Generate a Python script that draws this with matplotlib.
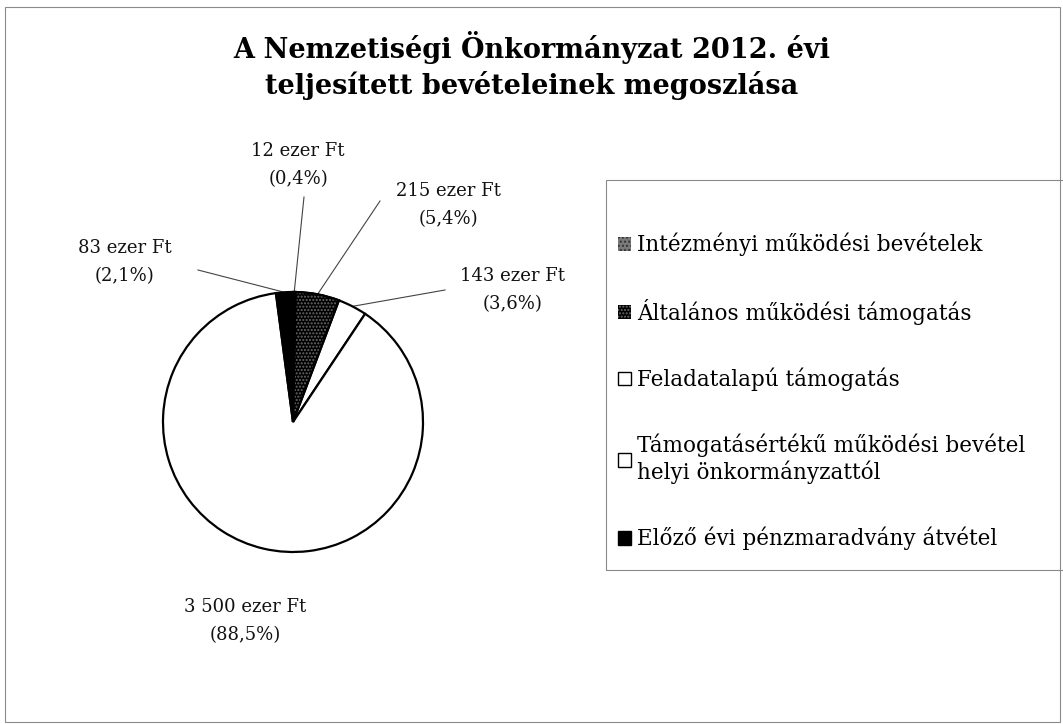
import matplotlib.pyplot as plt
import matplotlib.patches as mpatches
from matplotlib.patches import Wedge, Rectangle
import numpy as np

plt.rcParams['font.family'] = 'DejaVu Serif'
plt.rcParams['hatch.linewidth'] = 1.0

# Data
categories = ['Intézményi működési bevételek',
              'Általános működési támogatás',
              'Feladatalapú támogatás',
              'Támogatásértékű működési bevétel\nhelyi önkormányzattól',
              'Előző évi pénzmaradvány átvétel']
values = [12, 215, 143, 3500, 83]
value_labels = ['12', '215', '143', '3 500', '83']
percents = ['0,4', '5,4', '3,6', '88,5', '2,1']

# styles per slice: face, hatch, hatch colour
faces = ['#7a7a7a', 'black', 'white', 'white', 'black']
hatches = ['....', '.....', None, None, None]
hatch_cols = ['#333333', '#6a6a6a', None, None, None]

W, H = 1063, 724
fig = plt.figure(figsize=(W / 100, H / 100), dpi=100)
ax = fig.add_axes([0, 0, 1, 1])

cx, cy, r = 293, H - 422, 130

wedges, _ = ax.pie(values, startangle=90, counterclock=False, center=(cx, cy),
                   radius=r, colors=faces, frame=True,
                   wedgeprops=dict(edgecolor='black', linewidth=1.6))
ax.set_xlim(0, W)
ax.set_ylim(0, H)
ax.set_aspect('equal')
ax.axis('off')

# hatch overlays
for w, h, hc in zip(wedges, hatches, hatch_cols):
    if h:
        ov = Wedge((cx, cy), r, w.theta1, w.theta2, facecolor='none',
                   edgecolor=hc, hatch=h, linewidth=0, zorder=w.get_zorder() + 0.1)
        ax.add_patch(ov)
        edge = Wedge((cx, cy), r, w.theta1, w.theta2, facecolor='none',
                     edgecolor='black', linewidth=1.6, zorder=w.get_zorder() + 0.2)
        ax.add_patch(edge)

# data label positions (pixels from top-left)
label_pos = [(298, 165), (448, 205), (513, 290), (245, 621), (125, 262)]
leader_start = [(304, 197), (380, 201), (445, 290), None, (198, 270)]

for w, vl, pc, (lx, ly), ls in zip(wedges, value_labels, percents, label_pos, leader_start):
    ax.text(lx, H - ly, f'{vl} ezer Ft\n({pc}%)', ha='center', va='center',
            fontsize=13, linespacing=1.75, color='#111111')
    if ls is not None:
        mid = np.deg2rad((w.theta1 + w.theta2) / 2)
        px, py = cx + r * np.cos(mid), cy + r * np.sin(mid)
        ax.plot([ls[0], px], [H - ls[1], py], color='#444444', linewidth=0.8, zorder=0.5)

# title
fig.text(532 / W, 1 - 48 / H, 'A Nemzetiségi Önkormányzat 2012. évi',
         ha='center', va='center', fontsize=19.5, fontweight='bold')
fig.text(532 / W, 1 - 85 / H, 'teljesített bevételeinek megoszlása',
         ha='center', va='center', fontsize=19.5, fontweight='bold')

# outer chart border
fig.patches.append(Rectangle((5 / W, 2 / H), (W - 8) / W, (H - 9) / H,
                             transform=fig.transFigure, fill=False,
                             edgecolor='#8a8a8a', linewidth=0.8))

# legend frame
fig.patches.append(Rectangle((606 / W, 1 - 570 / H), (W - 606 + 10) / W, 390 / H,
                             transform=fig.transFigure, fill=False,
                             edgecolor='#8a8a8a', linewidth=0.8))

handles = []
for f, h, hc in zip(faces, hatches, hatch_cols):
    if h:
        handles.append(mpatches.Patch(facecolor=f, edgecolor=hc, hatch=h, linewidth=0))
    else:
        handles.append(mpatches.Patch(facecolor=f, edgecolor='black', linewidth=1.0))

leg = fig.legend(handles, categories, loc='upper left',
                 bbox_to_anchor=(607 / W, 1 - 222 / H), frameon=False,
                 fontsize=15.5, handlelength=0.6, handleheight=0.6,
                 handletextpad=0.3, labelspacing=1.98, borderpad=0)

fig.savefig('out.png', dpi=100, facecolor='white')
